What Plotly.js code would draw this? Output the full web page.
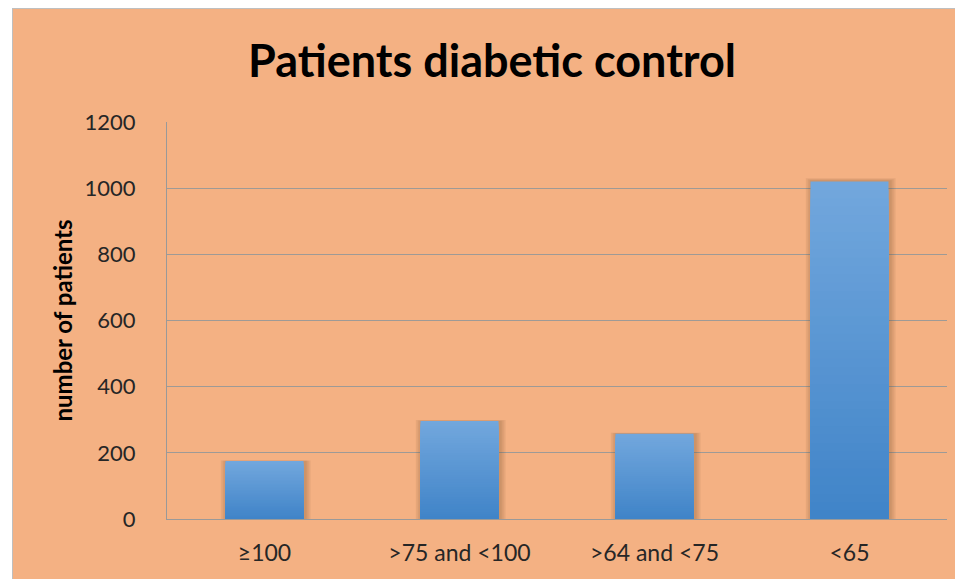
<!DOCTYPE html>
<html>
<head>
<meta charset="utf-8">
<script src="https://cdn.plot.ly/plotly-3.0.1.min.js"></script>
<style>
  html, body { margin: 0; padding: 0; background: #ffffff; }
  #chart { position: absolute; left: 12px; top: 8px; width: 942px; height: 570px; border-left: 1px solid #BFBFBF; border-top: 1px solid #BFBFBF; }
</style>
</head>
<body>
<div id="chart"></div>
<script>
const categories = ["≥100", ">75 and <100", ">64 and <75", "<65"];
const patients = [175, 296, 258, 1020];
const yTicks = [0, 200, 400, 600, 800, 1000, 1200];

// vertical gradient: overlaid bars of decreasing height (light on top, dark at bottom)
const steps = 40;
const topColor = [114, 167, 221];
const botColor = [64, 132, 200];
const traces = [];
// soft shadow behind each bar
[0.46, 0.44, 0.42].forEach((w, i) => {
  traces.push({
    type: "bar", x: categories, y: patients.map(v => v * (1.004 + 0.003 * (2 - i))),
    marker: { color: "rgba(110,70,40,0.10)", line: { width: 0 } },
    width: w, offset: -0.2 - (w - 0.4) / 2 + 0.006, hoverinfo: "skip", showlegend: false
  });
});
for (let k = 0; k < steps; k++) {
  const t = 1 - k / (steps - 1);
  const c = botColor.map((b, i) => Math.round(b + (topColor[i] - b) * t));
  traces.push({
    type: "bar",
    x: categories,
    y: patients.map(v => v * (steps - k) / steps),
    marker: { color: `rgb(${c[0]},${c[1]},${c[2]})`, line: { width: 0 } },
    width: 0.4,
    hoverinfo: "skip",
    showlegend: false
  });
}

const layout = {
  width: 943, height: 571,
  paper_bgcolor: "#F4B183",
  plot_bgcolor: "#F4B183",
  barmode: "overlay",
  margin: { l: 154, r: 9, t: 113, b: 61 },
  font: { family: "Lato, 'Open Sans', sans-serif", color: "#262626" },
  title: {
    text: "<b>Patients diabetic control</b>",
    font: { size: 45, color: "#000000", family: "Lato, 'Open Sans', sans-serif" },
    x: 0.508, xanchor: "center", xref: "container",
    y: 0.908, yanchor: "middle", yref: "container"
  },
  xaxis: {
    type: "category",
    showline: true, linecolor: "#999999", linewidth: 1,
    showgrid: false, ticks: "",
    tickfont: { size: 23, color: "#262626" },
    ticklabelstandoff: 13
  },
  yaxis: {
    range: [0, 1200],
    tickvals: yTicks, ticktext: yTicks.map(String),
    showline: true, linecolor: "#999999", linewidth: 1,
    showgrid: true, gridcolor: "#9E9A96", gridwidth: 1.3,
    zeroline: false, ticks: "",
    tickfont: { size: 22, color: "#262626" },
    ticklabelstandoff: 26,
    title: {
      text: "<b>number of patients</b>",
      font: { size: 24, color: "#000000" },
      standoff: 5
    }
  }
};

Plotly.newPlot("chart", traces, layout, { displayModeBar: false, staticPlot: true });
</script>
</body>
</html>
